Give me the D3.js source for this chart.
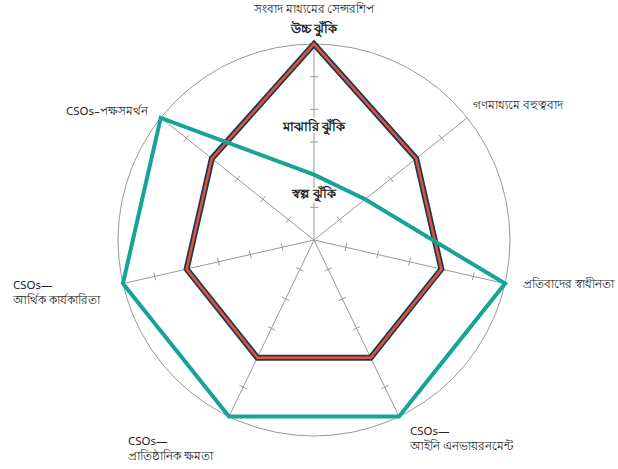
<!DOCTYPE html>
<html>
<head>
<meta charset="utf-8">
<script src="https://cdn.jsdelivr.net/npm/d3@7"></script>
<style>
  body { margin: 0; background: #fff; }
  svg { display: block; font-family: "Noto Sans", sans-serif; }
</style>
</head>
<body>
<svg id="chart"></svg>
<script>
const WIDTH = 618
const HEIGHT = 469
const CENTER = {x: 314, y: 240}
const RADIUS = 196

// axes, clockwise from the top
const axes = [
  ["সংবাদ মাধ্যমের সেন্সরশিপ"],
  ["গণমাধ্যমে বহুত্ববাদ"],
  ["প্রতিবাদের স্বাধীনতা"],
  ["CSOs—", "আইনি এনভায়রনমেন্ট"],
  ["CSOs—", "প্রাতিষ্ঠানিক ক্ষমতা"],
  ["CSOs—", "আর্থিক কার্যকারিতা"],
  ["CSOs–পক্ষসমর্থন"]
]
const riskLabels = ["স্বল্প ঝুঁকি", "মাঝারি ঝুঁকি", "উচ্চ ঝুঁকি"]
const riskValues = [1.4, 3.45, 6.45]
const seriesA = [6, 4, 4, 4, 4, 4, 4]
const seriesB = [2, 2, 6, 6, 6, 6, 6]
const tickValues = [1, 2, 3, 4, 5]

// label placement: offset from axis end, anchor
const labelPos = [
  {dx: 0, dy: -34, anchor: "middle"},
  {dx: 6, dy: -12, anchor: "start"},
  {dx: 18, dy: 1, anchor: "start"},
  {dx: 11, dy: 15, anchor: "start"},
  {dx: -101, dy: 25, anchor: "start"},
  {dx: -110, dy: 2, anchor: "start"},
  {dx: -13, dy: -6, anchor: "end"}
]

const svg = d3.select("#chart").attr("width", WIDTH).attr("height", HEIGHT)
const g = svg.append("g").attr("transform", `translate(${CENTER.x},${CENTER.y})`)

const r = d3.scaleLinear().domain([0, 6]).range([0, RADIUS])
const angle = d3.scaleLinear().domain([0, axes.length]).range([0, 2 * Math.PI])

function pt(i, v) {
  let a = angle(i)
  return [r(v) * Math.sin(a), -r(v) * Math.cos(a)]
}

// outer circle
g.append("circle").attr("r", r(6)).attr("fill", "none").attr("stroke", "#999").attr("stroke-width", 1)

// spokes
axes.forEach((d, i) => {
  let end = pt(i, 6)
  g.append("line")
    .attr("x1", 0).attr("y1", 0).attr("x2", end[0]).attr("y2", end[1])
    .attr("stroke", "#999").attr("stroke-width", 1)
  tickValues.forEach(t => {
    let p = pt(i, t)
    let a = angle(i)
    let ux = Math.cos(a) * 4, uy = Math.sin(a) * 4
    g.append("line")
      .attr("x1", p[0] - ux).attr("y1", p[1] - uy)
      .attr("x2", p[0] + ux).attr("y2", p[1] + uy)
      .attr("stroke", "#999").attr("stroke-width", 1)
  })
})

// risk labels on the top spoke
riskLabels.forEach((t, i) => {
  g.append("text")
    .attr("x", 0).attr("y", -r(riskValues[i]))
    .attr("text-anchor", "middle")
    .attr("dominant-baseline", "middle")
    .attr("font-size", 13).attr("font-weight", "bold")
    .attr("fill", "#222")
    .attr("stroke", "#fff").attr("stroke-width", 4).attr("paint-order", "stroke")
    .text(t)
})

const radial = d3.lineRadial()
  .angle((d, i) => angle(i))
  .radius(d => r(d))
  .curve(d3.curveLinearClosed)

// navy / orange series
g.append("path").datum(seriesA).attr("d", radial)
  .attr("fill", "none").attr("stroke", "#1a3a60").attr("stroke-width", 6).attr("stroke-linejoin", "miter")
g.append("path").datum(seriesA).attr("d", radial)
  .attr("fill", "none").attr("stroke", "#e8522c").attr("stroke-width", 2.5).attr("stroke-linejoin", "miter")

// teal series
g.append("path").datum(seriesB).attr("d", radial)
  .attr("fill", "none").attr("stroke", "#17a398").attr("stroke-width", 4).attr("stroke-linejoin", "miter")

// axis labels
axes.forEach((lines, i) => {
  let end = pt(i, 6)
  let lp = labelPos[i]
  let txt = g.append("text")
    .attr("x", end[0] + lp.dx).attr("y", end[1] + lp.dy)
    .attr("text-anchor", lp.anchor)
    .attr("dominant-baseline", "middle")
    .attr("font-size", 11.5).attr("fill", "#222")
  lines.forEach((l, k) => {
    txt.append("tspan")
      .attr("x", end[0] + lp.dx)
      .attr("dy", k == 0 ? 0 : 15)
      .text(l)
  })
})
</script>
</body>
</html>
